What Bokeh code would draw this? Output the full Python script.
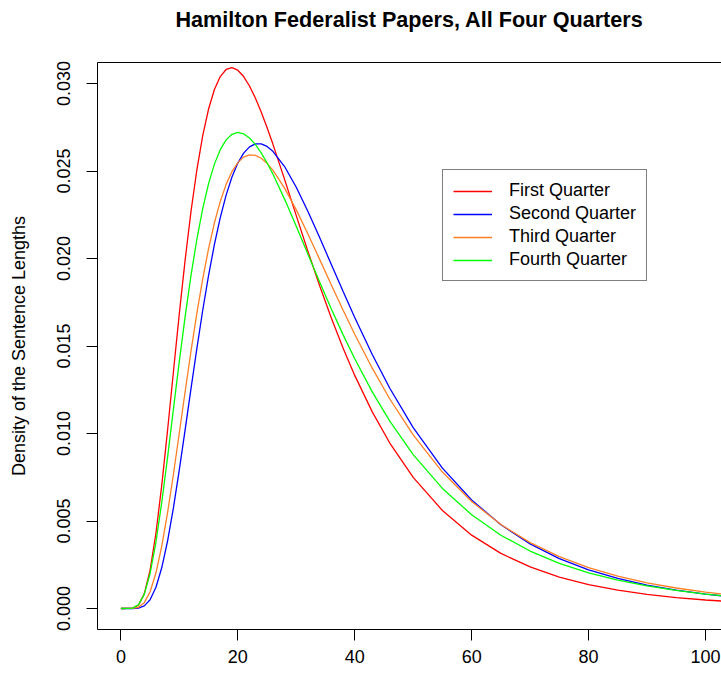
from bokeh.plotting import figure
from bokeh.models import (Range1d, FixedTicker, PrintfTickFormatter, LinearAxis,
                          Legend, LegendItem)
from bokeh.embed import file_html
from bokeh.resources import INLINE

# Sentence length (words) at which each density curve is evaluated
sentence_length = [0, 2, 3, 4, 5, 6, 7, 8, 9, 10,
                   11, 12, 13, 14, 15, 16, 17, 18, 19, 20,
                   21, 22, 23, 24, 25, 26, 28, 30, 32, 34,
                   36, 38, 40, 43, 46, 50, 55, 60, 65, 70,
                   75, 80, 85, 90, 95, 100, 104]

first_quarter = [0, 0.00002, 0.000195, 0.000838, 0.002194, 0.004314, 0.007067, 0.010232, 0.013569, 0.016863,
                 0.019947, 0.022706, 0.025070, 0.027021, 0.028543, 0.029657, 0.030397, 0.030802, 0.030907, 0.030760,
                 0.030398, 0.029857, 0.029173, 0.028375, 0.027488, 0.026538, 0.024522, 0.022449, 0.020404, 0.018441,
                 0.016597, 0.014887, 0.013320, 0.011236, 0.009454, 0.007493, 0.005600, 0.004192, 0.003148, 0.002374,
                 0.001798, 0.001369, 0.001048, 0.000806, 0.000624, 0.000485, 0.000398]

second_quarter = [0, 0.000001, 0.000024, 0.000148, 0.000503, 0.001213, 0.002341, 0.003882, 0.005778, 0.007931,
                  0.010231, 0.012574, 0.014867, 0.017042, 0.019033, 0.020804, 0.022336, 0.023622, 0.024655, 0.025451,
                  0.026021, 0.026380, 0.026552, 0.026554, 0.026404, 0.026126, 0.025254, 0.024072, 0.022690, 0.021196,
                  0.019658, 0.018124, 0.016629, 0.014513, 0.012586, 0.010335, 0.008021, 0.006199, 0.004783, 0.003692,
                  0.002854, 0.002212, 0.001719, 0.001340, 0.001048, 0.000823, 0.000680]

third_quarter = [0, 0.000005, 0.000069, 0.000333, 0.000960, 0.002042, 0.003581, 0.005504, 0.007700, 0.010043,
                 0.012415, 0.014718, 0.016875, 0.018839, 0.020566, 0.022041, 0.023261, 0.024235, 0.024967, 0.025480,
                 0.025793, 0.025923, 0.025894, 0.025727, 0.025437, 0.025046, 0.024024, 0.022777, 0.021395, 0.019949,
                 0.018491, 0.017057, 0.015675, 0.013732, 0.011971, 0.009917, 0.007798, 0.006117, 0.004797, 0.003766,
                 0.002963, 0.002338, 0.001850, 0.001470, 0.001171, 0.000937, 0.000786]

fourth_quarter = [0, 0.00002, 0.000207, 0.000810, 0.002002, 0.003799, 0.006083, 0.008683, 0.011422, 0.014137,
                  0.016708, 0.019047, 0.021101, 0.022849, 0.024277, 0.025393, 0.026219, 0.026780, 0.027096, 0.027202,
                  0.027124, 0.026888, 0.026519, 0.026040, 0.025470, 0.024829, 0.023394, 0.021839, 0.020242, 0.018654,
                  0.017116, 0.015650, 0.014270, 0.012379, 0.010705, 0.008793, 0.006863, 0.005357, 0.004188, 0.003284,
                  0.002584, 0.002041, 0.001618, 0.001289, 0.001030, 0.000827, 0.000696]

series_names = ["First Quarter", "Second Quarter", "Third Quarter", "Fourth Quarter"]
series_colors = ["#FF0000", "#0000FF", "#FF7F24", "#00FF00"]

x_ticks = [0, 20, 40, 60, 80, 100]
y_ticks = [0.000, 0.005, 0.010, 0.015, 0.020, 0.025, 0.030]

TITLE = "Hamilton Federalist Papers, All Four Quarters"
FONT = "Liberation Sans"

p = figure(width=721, height=675, output_backend="svg", toolbar_location=None,
           x_range=Range1d(-4, 102.74), y_range=Range1d(-0.0012, 0.0312),
           x_axis_type=None, y_axis_type=None,
           min_border_left=97, min_border_right=0, min_border_top=62, min_border_bottom=46)
p.outline_line_color = None
p.background_fill_color = "white"
p.border_fill_color = "white"


def style_axis(ax):
    ax.axis_line_color = "black"
    ax.axis_line_width = 1
    ax.major_tick_line_color = "black"
    ax.major_tick_in = 0
    ax.major_tick_out = 11
    ax.minor_tick_in = 0
    ax.minor_tick_out = 0
    ax.major_label_text_font = FONT
    ax.major_label_text_font_size = "18px"
    ax.major_label_text_color = "black"
    ax.axis_label_text_font = FONT
    ax.axis_label_text_font_size = "18px"
    ax.axis_label_text_font_style = "normal"
    ax.axis_label_text_color = "black"


xaxis = LinearAxis(ticker=FixedTicker(ticks=x_ticks))
style_axis(xaxis)
xaxis.major_label_standoff = 9
p.add_layout(xaxis, "below")

yaxis = LinearAxis(ticker=FixedTicker(ticks=y_ticks),
                   formatter=PrintfTickFormatter(format="%.3f"),
                   axis_label="Density of the Sentence Lengths")
style_axis(yaxis)
yaxis.major_label_orientation = "vertical"
yaxis.major_label_standoff = 17
yaxis.axis_label_standoff = 25
p.add_layout(yaxis, "left")

# top edge of the plot box, carrying the chart title
top_edge = LinearAxis(ticker=FixedTicker(ticks=[]), axis_label=TITLE)
style_axis(top_edge)
top_edge.major_tick_out = 0
top_edge.major_label_standoff = 0
top_edge.major_label_text_font_size = "0px"
top_edge.axis_label_text_font_size = "21.6px"
top_edge.axis_label_text_font_style = "bold"
top_edge.axis_label_standoff = 31
p.add_layout(top_edge, "above")

series = [first_quarter, second_quarter, third_quarter, fourth_quarter]
items = []
for name, color, ys in zip(series_names, series_colors, series):
    r = p.line(sentence_length, ys, line_color=color, line_width=1.3)
    items.append(LegendItem(label=name, renderers=[r]))

legend = Legend(items=items, location=(345, 348), margin=0, padding=10, spacing=2,
                glyph_width=39, glyph_height=20, label_height=20, label_standoff=17,
                label_text_font=FONT, label_text_font_size="18px", label_text_color="black",
                border_line_color="black", border_line_width=1,
                background_fill_color="white", background_fill_alpha=1.0)
p.add_layout(legend)

open("out.html", "w").write(file_html(p, INLINE))
